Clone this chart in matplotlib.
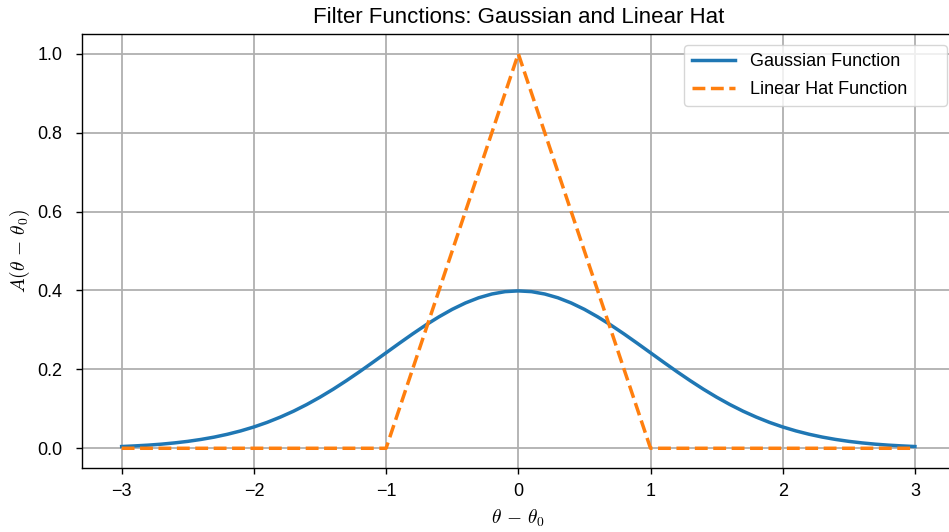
import matplotlib
matplotlib.use("Agg")
import matplotlib.pyplot as plt

plt.rcParams['font.family'] = ['Liberation Sans', 'DejaVu Sans']
plt.rcParams['mathtext.fontset'] = 'cm'
plt.rcParams['axes.unicode_minus'] = True

# Gaussian curve values
gauss_x = [-3.0, -2.9, -2.8, -2.7, -2.6, -2.5, -2.4, -2.3, -2.2, -2.1,
           -2.0, -1.9, -1.8, -1.7, -1.6, -1.5, -1.4, -1.3, -1.2, -1.1,
           -1.0, -0.9, -0.8, -0.7, -0.6, -0.5, -0.4, -0.3, -0.2, -0.1,
           0.0, 0.1, 0.2, 0.3, 0.4, 0.5, 0.6, 0.7, 0.8, 0.9,
           1.0, 1.1, 1.2, 1.3, 1.4, 1.5, 1.6, 1.7, 1.8, 1.9,
           2.0, 2.1, 2.2, 2.3, 2.4, 2.5, 2.6, 2.7, 2.8, 2.9, 3.0]
gauss_y = [0.0044, 0.0060, 0.0079, 0.0104, 0.0136, 0.0175, 0.0224, 0.0283, 0.0355, 0.0440,
           0.0540, 0.0656, 0.0790, 0.0940, 0.1109, 0.1295, 0.1497, 0.1714, 0.1942, 0.2179,
           0.2420, 0.2661, 0.2897, 0.3123, 0.3332, 0.3521, 0.3683, 0.3814, 0.3910, 0.3970,
           0.3989, 0.3970, 0.3910, 0.3814, 0.3683, 0.3521, 0.3332, 0.3123, 0.2897, 0.2661,
           0.2420, 0.2179, 0.1942, 0.1714, 0.1497, 0.1295, 0.1109, 0.0940, 0.0790, 0.0656,
           0.0540, 0.0440, 0.0355, 0.0283, 0.0224, 0.0175, 0.0136, 0.0104, 0.0079, 0.0060, 0.0044]

# Linear hat vertices
hat_x = [-3.0, -1.0, 0.0, 1.0, 3.0]
hat_y = [0.0, 0.0, 1.0, 0.0, 0.0]

W, H = 949, 532
fig = plt.figure(figsize=(W / 100, H / 100), dpi=100)
ax = fig.add_axes([82 / W, 64 / H, 872.6 / W, 434 / H])

ax.plot(gauss_x, gauss_y, color='#1f77b4', lw=2.5, label='Gaussian Function')
ax.plot(hat_x, hat_y, color='#ff7f0e', lw=2.5, ls='--', label='Linear Hat Function')

ax.set_title('Filter Functions: Gaussian and Linear Hat', fontsize=16, pad=8)
ax.set_xlabel(r'$\theta \,-\, \theta_0$', fontsize=14, labelpad=5)
ax.set_ylabel(r'$A(\theta \,-\, \theta_0)$', fontsize=14, labelpad=4)
ax.tick_params(labelsize=13, width=1.0, length=4.5)
ax.tick_params(axis='y', pad=9.5)
ax.tick_params(axis='x', pad=6.5)
for s in ax.spines.values():
    s.set_linewidth(1.0)
ax.grid(True, color='#b0b0b0', lw=1.3)
ax.legend(loc='upper left', fontsize=13, mode='expand', borderaxespad=0,
          bbox_to_anchor=(684 / W, 1 - 45 / H, 263 / W, 0),
          bbox_transform=fig.transFigure, handlelength=2.4, labelspacing=0.6,
          borderpad=0.45)

fig.savefig('out.png', dpi=100)
